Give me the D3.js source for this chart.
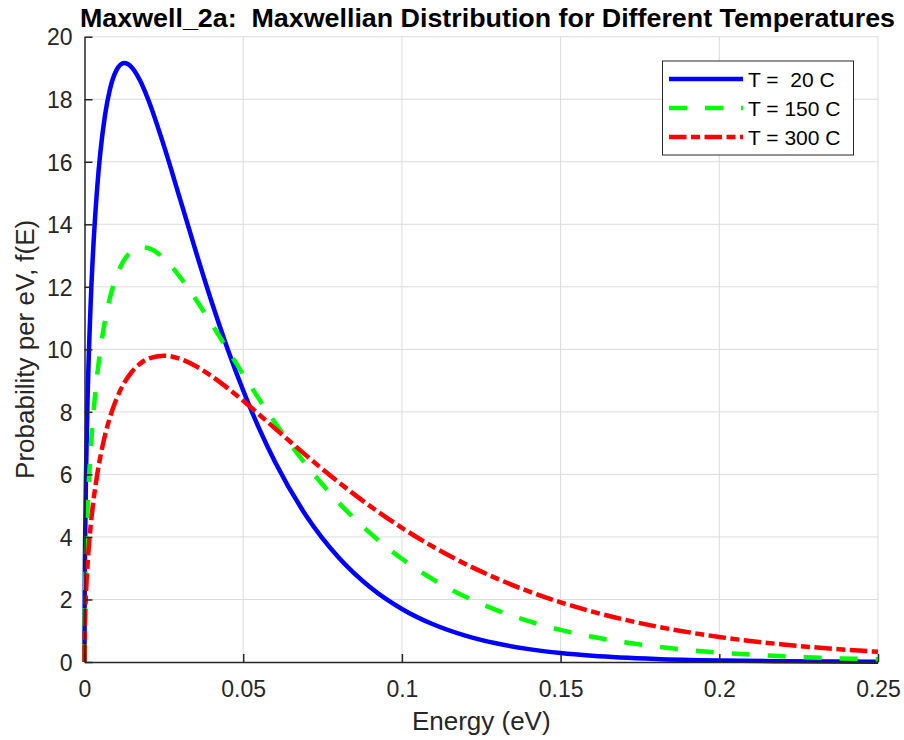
<!DOCTYPE html>
<html>
<head>
<meta charset="utf-8">
<script src="https://cdn.jsdelivr.net/npm/d3@7"></script>
<style>
  html, body { margin: 0; padding: 0; background: #ffffff; }
  svg { display: block; font-family: "Liberation Sans", Arial, Helvetica, sans-serif; }
</style>
</head>
<body>
<svg id="chart" width="904" height="740"></svg>
<script>
// ---- data ----
const energy = [0, 0.00005, 0.0002, 0.0005, 0.001, 0.002, 0.003, 0.004, 0.005, 0.0065,
  0.008, 0.01, 0.0125, 0.015, 0.0175, 0.02, 0.025, 0.03, 0.035, 0.04,
  0.045, 0.05, 0.055, 0.06, 0.07, 0.08, 0.09, 0.1, 0.11, 0.12,
  0.13, 0.14, 0.15, 0.16, 0.18, 0.2, 0.22, 0.25];
const f20C = [0, 1.983, 3.943, 6.161, 8.542, 11.611, 13.669, 15.171, 16.304, 17.517,
  18.313, 18.916, 19.156, 19.007, 18.596, 18.007, 16.516, 14.845, 13.155, 11.537,
  10.039, 8.683, 7.471, 6.402, 4.654, 3.350, 2.391, 1.697, 1.198, 0.842,
  0.590, 0.412, 0.287, 0.200, 0.096, 0.046, 0.022, 0.007];
const f150C = [0, 1.144, 2.279, 3.574, 4.986, 6.860, 8.175, 9.184, 9.991, 10.932,
  11.639, 12.318, 12.860, 13.153, 13.266, 13.242, 12.908, 12.329, 11.610, 10.821,
  10.006, 9.197, 8.410, 7.658, 6.287, 5.109, 4.120, 3.301, 2.631, 2.089,
  1.653, 1.304, 1.026, 0.806, 0.494, 0.301, 0.182, 0.085];
const f300C = [0, 0.726, 1.448, 2.276, 3.186, 4.415, 5.299, 5.996, 6.569, 7.266,
  7.820, 8.396, 8.923, 9.293, 9.542, 9.697, 9.798, 9.700, 9.468, 9.147,
  8.768, 8.353, 7.917, 7.473, 6.592, 5.755, 4.986, 4.292, 3.676, 3.136,
  2.666, 2.259, 1.910, 1.611, 1.140, 0.801, 0.561, 0.326];
const seriesNames = ["T =  20 C", "T = 150 C", "T = 300 C"];
const xTicks = [0, 0.05, 0.1, 0.15, 0.2, 0.25];
const xTickLabels = ["0", "0.05", "0.1", "0.15", "0.2", "0.25"];
const yTicks = [0, 2, 4, 6, 8, 10, 12, 14, 16, 18, 20];
const titleText = "Maxwell_2a:  Maxwellian Distribution for Different Temperatures";
const xLabelText = "Energy (eV)";
const yLabelText = "Probability per eV, f(E)";

// ---- styling ----
const styles = [
  { color: "#0000ff", dash: null },
  { color: "#00ff00", dash: "18,18" },
  { color: "#ff0000", dash: "17.5,4.5,9,4.5" }
];
const seriesValues = [f20C, f150C, f300C];

const svg = d3.select("#chart");
const L = 84.5, R = 878, T = 36.7, B = 662;
const x = d3.scaleLinear().domain([0, 0.25]).range([L, R]);
const y = d3.scaleLinear().domain([0, 20]).range([B, T]);
const axisColor = "#262626";

// grid
const grid = svg.append("g");
grid.selectAll("line.gx").data(xTicks.slice(1)).enter().append("line")
  .attr("x1", d => x(d)).attr("x2", d => x(d)).attr("y1", B).attr("y2", T)
  .attr("stroke", "#dcdcdc").attr("stroke-width", 1);
grid.selectAll("line.gy").data(yTicks.slice(1)).enter().append("line")
  .attr("x1", L).attr("x2", R).attr("y1", d => y(d)).attr("y2", d => y(d))
  .attr("stroke", "#dcdcdc").attr("stroke-width", 1);

// curves
const line = d3.line().x((d, i) => x(energy[i])).y(d => y(d)).curve(d3.curveMonotoneX);
seriesValues.forEach((vals, k) => {
  svg.append("path").datum(vals)
    .attr("d", line)
    .attr("fill", "none")
    .attr("stroke", styles[k].color)
    .attr("stroke-width", 4.5)
    .attr("stroke-dasharray", styles[k].dash)
    .attr("stroke-linejoin", "round")
    .attr("stroke-linecap", "butt");
});

// axes
const xAxis = d3.axisBottom(x).tickValues(xTicks).tickFormat((d, i) => xTickLabels[i])
  .tickSizeInner(-8).tickSizeOuter(0).tickPadding(20);
const gx = svg.append("g").attr("transform", `translate(0,${B})`).call(xAxis);
gx.select(".domain").attr("stroke", axisColor).attr("stroke-width", 1.5);
gx.selectAll(".tick line").attr("stroke", axisColor).attr("stroke-width", 1.5);
gx.selectAll(".tick text").attr("fill", axisColor).attr("font-size", 23)
  .attr("font-family", null).attr("dy", null).attr("y", 35);

const yAxis = d3.axisLeft(y).tickValues(yTicks).tickSizeInner(-8).tickSizeOuter(0).tickPadding(12);
const gy = svg.append("g").attr("transform", `translate(${L},0)`).call(yAxis);
gy.select(".domain").attr("stroke", axisColor).attr("stroke-width", 1.5);
gy.selectAll(".tick line").attr("stroke", axisColor).attr("stroke-width", 1.5);
gy.selectAll(".tick text").attr("fill", axisColor).attr("font-size", 23)
  .attr("font-family", null).attr("x", -12).attr("dy", "0.36em");

// title and labels
svg.append("text").attr("x", 80).attr("y", 27).attr("text-anchor", "start")
  .attr("font-size", 25).attr("font-weight", "bold").attr("fill", "#000")
  .attr("textLength", 815).attr("lengthAdjust", "spacingAndGlyphs")
  .style("white-space", "pre")
  .text(titleText);
svg.append("text").attr("x", (L + R) / 2).attr("y", 730).attr("text-anchor", "middle")
  .attr("font-size", 26).attr("fill", axisColor).text(xLabelText);
svg.append("text").attr("transform", `translate(33.5,${(T + B) / 2}) rotate(-90)`)
  .attr("text-anchor", "middle").attr("font-size", 26).attr("fill", axisColor).text(yLabelText);

// legend
const lg = svg.append("g");
lg.append("rect").attr("x", 662.5).attr("y", 61).attr("width", 191).attr("height", 94)
  .attr("fill", "#fff").attr("stroke", axisColor).attr("stroke-width", 1);
const rowY = [79, 108, 137];
seriesNames.forEach((name, k) => {
  lg.append("line").attr("x1", 669).attr("x2", 743).attr("y1", rowY[k]).attr("y2", rowY[k])
    .attr("stroke", styles[k].color).attr("stroke-width", 4.5)
    .attr("stroke-dasharray", styles[k].dash);
  lg.append("text").attr("x", 748).attr("y", rowY[k] + 7.5)
    .attr("font-size", 21).attr("fill", "#000")
    .style("white-space", "pre").text(name);
});
</script>
</body>
</html>
